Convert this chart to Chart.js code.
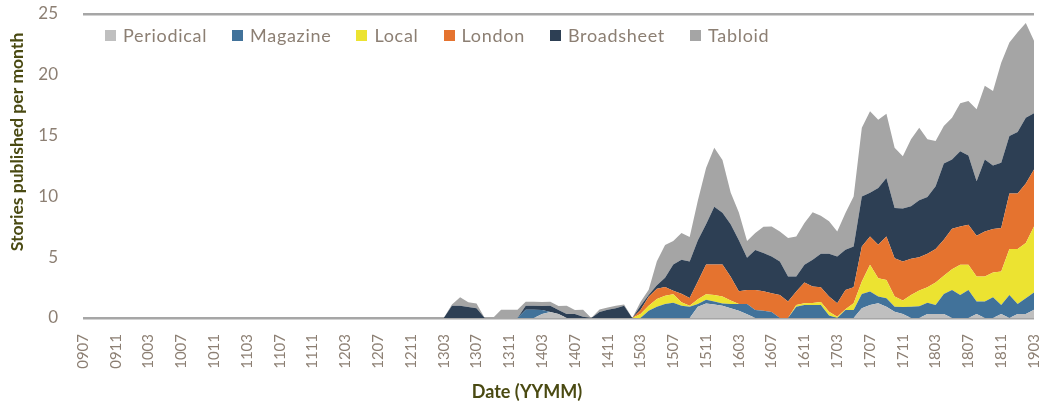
<!DOCTYPE html>
<html>
<head>
<meta charset="utf-8">
<title>Stories published per month</title>
<script src="https://cdn.jsdelivr.net/npm/chart.js@4.4.1/dist/chart.umd.min.js"></script>
<style>
  html, body { margin: 0; padding: 0; background: #fff; }
  #wrap { position: relative; width: 1039px; height: 403px; }
  #legend { position: absolute; left: 105px; top: 24px; display: flex; font-family: Lato, sans-serif; font-size: 18px; letter-spacing: 0.7px; color: #8c7f73; }
  #legend .item { display: flex; align-items: center; margin-right: 25px; }
  #legend .box { width: 11px; height: 11px; margin-right: 7px; }
</style>
</head>
<body>
<div id="wrap">
  <canvas id="chart" width="1039" height="403"></canvas>
  <div id="legend"></div>
</div>
<script>
// month labels (YYMM)
const months = [
  '0907','0908','0909','0910','0911','0912',
  '1001','1002','1003','1004','1005','1006','1007','1008','1009','1010','1011','1012',
  '1101','1102','1103','1104','1105','1106','1107','1108','1109','1110','1111','1112',
  '1201','1202','1203','1204','1205','1206','1207','1208','1209','1210','1211','1212',
  '1301','1302','1303','1304','1305','1306','1307','1308','1309','1310','1311','1312',
  '1401','1402','1403','1404','1405','1406','1407','1408','1409','1410','1411','1412',
  '1501','1502','1503','1504','1505','1506','1507','1508','1509','1510','1511','1512',
  '1601','1602','1603','1604','1605','1606','1607','1608','1609','1610','1611','1612',
  '1701','1702','1703','1704','1705','1706','1707','1708','1709','1710','1711','1712',
  '1801','1802','1803','1804','1805','1806','1807','1808','1809','1810','1811','1812',
  '1901','1902','1903'
];

const periodical = [
  0,0,0,0,0,0,
  0,0,0,0,0,0,0,0,0,0,0,0,
  0,0,0,0,0,0,0,0,0,0,0,0,
  0,0,0,0,0,0,0,0,0,0,0,0,
  0,0,0,0,0,0,0,0,0,0,0,0,
  0,0,0.33,0.5,0.33,0,0,0,0,0,0,0,
  0,0,0,0,0,0,0,0,0,0.93,1.2,1.1,
  1.0,0.8,0.6,0.3,0,0,0,0,0,0,0,0,
  0,0,0,0,0,0.8,1.07,1.21,0.93,0.52,0.33,0,
  0,0.33,0.33,0.33,0,0,0,0.33,0,0,0.33,0,
  0.33,0.33,0.67
];

const magazine = [
  0,0,0,0,0,0,
  0,0,0,0,0,0,0,0,0,0,0,0,
  0,0,0,0,0,0,0,0,0,0,0,0,
  0,0,0,0,0,0,0,0,0,0,0,0,
  0,0,0,0,0,0,0,0,0,0,0,0,
  0.67,0.67,0.33,0,0,0,0,0,0,0,0,0,
  0,0,0,0.6,0.93,1.15,1.26,1.0,0.93,0.22,0.3,0.25,
  0.2,0.35,0.55,0.85,0.66,0.6,0.5,0,0,0.93,1.07,1.07,
  1.07,0.2,0,0.66,0.66,1.18,1.1,0.55,0.69,0.41,0.57,0.93,
  0.96,0.93,0.74,1.65,2.31,1.9,2.31,1.02,1.35,1.7,0.74,1.9,
  0.82,1.29,1.42
];

const local = [
  0,0,0,0,0,0,
  0,0,0,0,0,0,0,0,0,0,0,0,
  0,0,0,0,0,0,0,0,0,0,0,0,
  0,0,0,0,0,0,0,0,0,0,0,0,
  0,0,0,0,0,0,0,0,0,0,0,0,
  0,0,0,0,0,0,0,0,0,0,0,0,
  0,0,0.33,0.4,0.64,0.69,0.69,0.3,0.07,0.4,0.45,0.55,
  0.56,0.28,0,0,0,0,0,0,0,0.14,0.14,0.17,
  0.25,0.32,0.1,0.05,0.55,1.02,2.2,1.51,1.51,0.83,0.53,0.97,
  1.3,1.27,1.85,1.49,1.7,2.47,2.06,2.06,2.06,2.04,2.75,3.77,
  4.52,4.54,5.44
];

const london = [
  0,0,0,0,0,0,
  0,0,0,0,0,0,0,0,0,0,0,0,
  0,0,0,0,0,0,0,0,0,0,0,0,
  0,0,0,0,0,0,0,0,0,0,0,0,
  0,0,0,0,0,0,0,0,0,0,0,0,
  0,0,0,0,0,0,0,0,0,0,0,0,
  0,0,0.33,0.75,0.83,0.71,0.3,0.7,0.65,1.45,2.45,2.5,
  2.64,1.97,1.05,1.15,1.64,1.6,1.54,1.9,1.35,1.1,1.71,1.35,
  1.21,1.24,1.11,1.6,1.32,2.88,2.34,2.75,3.58,3.16,3.22,2.97,
  2.74,2.75,2.75,2.97,3.33,3.16,3.3,3.36,3.71,3.58,3.58,4.56,
  4.56,4.9,4.68
];

const broadsheet = [
  0,0,0,0,0,0,
  0,0,0,0,0,0,0,0,0,0,0,0,
  0,0,0,0,0,0,0,0,0,0,0,0,
  0,0,0,0,0,0,0,0,0,0,0,0,
  0,0,0,1.0,1.0,0.9,0.8,0,0,0,0,0,
  0.33,0.33,0.33,0.5,0.33,0.33,0.33,0.1,0,0.5,0.67,0.8,
  1.0,0,0.33,0.15,0.3,0.75,2.15,2.8,3.0,3.4,3.3,4.75,
  4.25,4.3,4.2,2.65,3.3,3.14,3.02,2.75,2.06,1.24,1.45,2.2,
  2.75,3.52,3.85,3.3,3.35,4.12,3.58,4.68,4.81,4.13,4.35,4.32,
  4.68,4.68,5.17,6.26,5.7,6.19,5.7,4.48,5.92,5.22,5.36,4.73,
  5.06,5.41,4.62
];

const tabloid = [
  0,0,0,0,0,0,
  0,0,0,0,0,0,0,0,0,0,0,0,
  0,0,0,0,0,0,0,0,0,0,0,0,
  0,0,0,0,0,0,0,0,0,0,0,0,
  0,0,0,0.1,0.7,0.4,0.4,0,0,0.67,0.67,0.67,
  0.33,0.33,0.33,0.33,0.33,0.67,0.33,0.57,0,0.2,0.2,0.2,
  0.1,0,0.33,0.43,1.97,2.7,1.93,2.2,2.02,3.27,4.63,4.85,
  4.35,2.63,2.27,1.38,1.4,2.16,2.47,2.47,3.16,3.3,3.44,3.9,
  3.12,2.67,2.06,3.03,4.12,5.65,6.71,5.6,5.28,4.95,4.3,5.5,
  5.97,4.73,3.71,3.09,3.43,3.94,4.48,5.91,6.05,6.13,8.24,7.7,
  8.2,7.79,5.97
];

const seriesNames = ['Periodical', 'Magazine', 'Local', 'London', 'Broadsheet', 'Tabloid'];
const seriesData = [periodical, magazine, local, london, broadsheet, tabloid];
const colors = ['#bfbfbf', '#41729a', '#ece331', '#e5732f', '#2d3f54', '#a5a5a5'];

const textColor = '#8c7f73';
const titleColor = '#4a4a12';

// legend sits over the plot, like the original
const legend = document.getElementById('legend');
seriesNames.forEach((name, k) => {
    const item = document.createElement('span');
    item.className = 'item';
    const box = document.createElement('span');
    box.className = 'box';
    box.style.background = colors[k];
    item.appendChild(box);
    item.appendChild(document.createTextNode(name));
    legend.appendChild(item);
});

// axis titles, placed where the original has them
const axisTitles = {
    id: 'axisTitles',
    afterDraw(chart) {
        const c = chart.ctx;
        c.save();
        c.fillStyle = titleColor;
        c.font = 'bold 18px Lato';
        c.textAlign = 'center';
        c.textBaseline = 'middle';
        c.fillText('Date (YYMM)', 527, 392);
        c.translate(17, 142);
        c.rotate(-Math.PI / 2);
        c.font = 'bold 17.5px Lato';
        c.fillText('Stories published per month', 0, 0);
        c.restore();
    }
};

const ctx = document.getElementById('chart');
new Chart(ctx, {
    type: 'line',
    data: {
        labels: months,
        datasets: seriesNames.map((name, k) => ({
            label: name,
            data: seriesData[k],
            backgroundColor: colors[k],
            borderWidth: 0,
            pointRadius: 0,
            tension: 0,
            fill: k === 0 ? 'origin' : '-1'
        }))
    },
    options: {
        responsive: false,
        animation: false,
        layout: { padding: { top: 14, right: 5, left: 0, bottom: 0 } },
        plugins: {
            legend: { display: false },
            tooltip: { enabled: false }
        },
        scales: {
            x: {
                grid: { display: false },
                border: { display: false },
                ticks: {
                    autoSkip: false,
                    minRotation: 90,
                    maxRotation: 90,
                    padding: 8,
                    color: textColor,
                    font: { family: 'Lato', size: 15 },
                    callback: function(value, index) {
                        return index % 4 === 0 ? this.getLabelForValue(value) : '';
                    }
                },
                afterFit: function(scale) {
                    scale.height = 85;
                    scale.paddingLeft = 0;
                    scale.paddingRight = 0;
                }
            },
            y: {
                stacked: true,
                min: 0,
                max: 25,
                ticks: {
                    stepSize: 5,
                    padding: 25,
                    color: textColor,
                    font: { family: 'Lato', size: 17 }
                },
                grid: {
                    drawTicks: false,
                    lineWidth: 2.5,
                    color: function(c) {
                        return (c.tick && (c.tick.value === 0 || c.tick.value === 25)) ? '#a6a6a6' : 'rgba(0,0,0,0)';
                    }
                },
                border: { display: false },
                afterFit: function(scale) {
                    scale.width = 83;
                    scale.paddingTop = 0;
                    scale.paddingBottom = 0;
                }
            }
        }
    },
    plugins: [axisTitles]
});
</script>
</body>
</html>
